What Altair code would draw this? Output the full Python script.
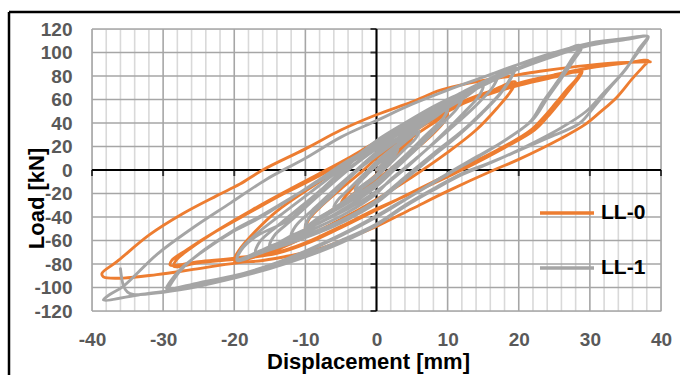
import altair as alt
import pandas as pd

# ---- data ----
SERIES = ["LL-0", "LL-1"]
COLORS = ["#ED7D31", "#A5A5A5"]

LL0_POINTS = [
    # cycle +-5
    (0, 0), (2, 11), (4, 22), (5, 28), (4.6, 23), (3, 13), (1, 2), (0, -4), (-2, -14), (-4, -24), (-5, -29),
    (-4.6, -24), (-3, -13), (-1, -1), (0, 5),
    # cycle +-10
    (3, 19), (6, 32), (8, 40), (10, 48), (9.5, 41), (8, 31), (5, 15), (2, 1), (0, -8), (-3, -21), (-6, -33),
    (-8, -41), (-10, -50), (-9.5, -42), (-8, -32), (-5, -16), (-2, -1), (0, 10),
    # cycle +-20
    (4, 28), (8, 43), (12, 56), (16, 67), (19.5, 75), (19, 68), (17, 53), (14, 34), (10, 15), (5, -6), (0, -25),
    (-5, -42), (-10, -57), (-15, -70), (-20, -77), (-19.4, -69), (-17, -52), (-14, -35), (-10, -18), (-5, 2), (0, 20),
    # cycle +-29 (1)
    (5, 37), (10, 51), (15, 63), (20, 72), (25, 79), (28.9, 84), (28.5, 79), (27.6, 72), (25.8, 58), (24, 45),
    (22.2, 34), (18, 19), (12, 0), (6, -17), (0, -33), (-5, -48), (-10, -62), (-14, -70), (-20, -75), (-25, -78),
    (-29, -81), (-28.8, -77), (-26.7, -68), (-22.5, -52), (-17.8, -36), (-13, -20), (-10, -11), (-5, 5), (0, 22),
    # cycle +-29 (2)
    (5, 39), (10, 53), (15, 65), (20, 74), (25, 80), (28.6, 83), (28.2, 78), (27, 70), (25.2, 57), (23.5, 45),
    (21.5, 33), (17, 17), (11, -1), (5, -19), (0, -34), (-5, -49), (-10, -63), (-14, -71), (-20, -76), (-25, -79),
    (-28.5, -82), (-28.2, -77), (-26, -66), (-22, -50), (-17.5, -34), (-13, -19), (-8, -3), (-4, 10), (0, 24),
    # cycle +-39
    (4, 36), (8, 47), (12, 57), (16, 66), (20, 74), (25, 81), (30, 87), (35, 91), (38.2, 93), (37.5, 88), (36, 78),
    (33.8, 62), (31.4, 49), (29.4, 39), (26, 27), (20, 9), (16.5, 0), (10, -18), (5, -33), (0, -48), (-4, -58),
    (-8, -67), (-12.2, -73), (-16, -77), (-19.6, -79), (-26.2, -85), (-30.9, -89), (-35.6, -92), (-38.4, -91),
    (-38.6, -88), (-36.5, -78), (-31.9, -55), (-27.2, -37), (-22.5, -22), (-19.2, -12), (-16, 0), (-10, 18),
    (-5, 34), (0, 47), (5, 58), (9, 68), (13, 74), (18, 79), (23, 84), (28, 88), (33, 91), (38.5, 92),
]

LL1_POINTS = [
    # cycle +-3
    (0, 0), (1.5, 9), (3, 18), (2.6, 13), (1, 3), (0, -4), (-1.5, -11), (-3, -17), (-2.6, -12), (-1, -2), (0, 4),
    # cycle +-6
    (2, 14), (4, 24), (6, 33), (5.5, 27), (4, 18), (2, 6), (0, -6), (-2, -15), (-4, -24), (-6, -32), (-5.5, -26),
    (-4, -17), (-2, -5), (0, 7),
    # cycle +-10 (1)
    (3, 22), (6, 36), (8, 44), (10, 52), (9.5, 45), (7, 30), (4, 12), (2, 1), (0, -10), (-3, -22), (-6, -33),
    (-8, -40), (-10, -48), (-9.5, -41), (-7, -25), (-4, -7), (-2, 3), (0, 12),
    # cycle +-10 (2)
    (3, 25), (6, 37), (8, 45), (10, 53), (9.4, 44), (7, 29), (4, 11), (2, -1), (0, -12), (-3, -24), (-6, -35),
    (-8, -42), (-10, -49), (-9.4, -40), (-7, -26), (-4, -8), (-2, 3), (0, 13),
    # cycle +-12
    (3, 27), (6, 40), (9, 52), (12, 62), (11.4, 53), (9, 38), (6, 20), (3, 3), (0, -14), (-3, -27), (-6, -38),
    (-9, -48), (-12, -57), (-11.4, -48), (-9, -34), (-6, -17), (-3, -1), (0, 15),
    # cycle +-15
    (4, 31), (8, 46), (12, 60), (15, 72), (14.4, 63), (12, 47), (8, 23), (4, 1), (0, -18), (-4, -33), (-8, -45),
    (-12, -56), (-15, -65), (-14.4, -56), (-12, -43), (-8, -21), (-4, 0), (0, 18),
    # cycle +-17
    (4, 34), (8, 49), (12, 62), (15, 73), (17, 80), (16.4, 71), (14, 55), (10, 33), (6, 12), (2, -8), (0, -20),
    (-4, -36), (-8, -48), (-12, -58), (-15, -65), (-17, -70), (-16.4, -61), (-14, -48), (-10, -28), (-6, -8),
    (-2, 10), (0, 20),
    # cycle +-20 (1)
    (4, 36), (8, 51), (12, 64), (16, 77), (19.5, 88), (19, 80), (17.5, 66), (15, 50), (12, 33), (8, 14), (4, -6),
    (0, -26), (-4, -40), (-8, -51), (-12, -60), (-16, -68), (-19.6, -76), (-19, -67), (-17, -55), (-13, -36),
    (-8, -13), (-4, 6), (0, 25),
    # cycle +-20 (2)
    (4, 40), (8, 54), (12, 66), (16, 78), (19.5, 87), (18.9, 78), (17.3, 64), (14.8, 48), (11.8, 31), (8, 12),
    (4, -8), (0, -28), (-4, -42), (-8, -53), (-12, -62), (-16, -70), (-19.6, -77), (-19, -68), (-16.8, -56),
    (-12.2, -42), (-8, -18), (-4, 4), (0, 24),
    # cycle +-29 (1)
    (5, 42), (10, 58), (15, 73), (20, 87), (25, 98), (28.6, 106), (27.2, 92), (25.4, 75), (23.4, 58), (21.6, 41),
    (18, 25), (14, 11), (10, -3), (6, -18), (2, -32), (0, -39), (-5, -55), (-10, -69), (-15, -81), (-20, -90),
    (-25, -96), (-29.5, -101), (-29, -95), (-27.5, -84), (-24.8, -71), (-20.6, -54), (-16.8, -42), (-12, -24),
    (-8, -8), (-4, 8), (0, 22),
    # cycle +-29 (2)
    (5, 41), (10, 57), (15, 72), (20, 86), (25, 97), (28.8, 104), (27.8, 94), (26, 78), (24, 61), (22, 43),
    (18.5, 27), (14.5, 12), (10.5, -2), (6, -18), (0, -40), (-5, -56), (-10, -70), (-15, -82), (-20, -91),
    (-25, -97), (-29.2, -102), (-28.6, -94), (-27, -82), (-24, -67), (-20, -51), (-16, -38), (-11, -20),
    (-6, -2), (0, 20),
    # cycle +-38
    (5, 40), (10, 57), (15, 72), (20, 86), (25, 97), (30, 106), (35, 111), (38.2, 113.5), (37.8, 110), (37, 104),
    (35.2, 87), (32.8, 70), (30.5, 53), (28.6, 40), (24, 27), (19, 14), (15, 4), (12, -3), (8, -16), (4, -30),
    (0, -46), (-5, -60), (-10, -72), (-15, -82), (-19.2, -90), (-23.9, -96), (-28.6, -102), (-33.2, -106),
    (-38.4, -110.6), (-37.5, -106), (-35.6, -99), (-30.9, -72), (-26, -50), (-20.5, -28), (-15.5, -8), (-10, 10),
    (-5, 28), (0, 42), (5, 56), (10, 68), (15, 79), (20, 90), (25, 100), (30, 108), (35, 112), (38.2, 113.5),
    (37.6, 107), (36.5, 98), (34.5, 82), (32, 66), (29.5, 50), (26, 36), (21, 20), (16, 6), (12, -4), (8, -17),
    (4, -31), (0, -47), (-5, -62), (-10, -74), (-15, -84), (-20, -92), (-25, -99), (-30, -104), (-34.2, -106),
    (-35, -104), (-35.6, -98), (-36, -84),
]

X_TICKS = [-40, -30, -20, -10, 0, 10, 20, 30, 40]
Y_TICKS = [-120, -100, -80, -60, -40, -20, 0, 20, 40, 60, 80, 100, 120]
X_MINOR = [v for v in range(-40, 41, 2) if v % 10 != 0]

# ---- tables ----
rows = []
for name, pts in zip(SERIES, [LL0_POINTS, LL1_POINTS]):
    for i, (x, y) in enumerate(pts):
        rows.append({"series": name, "i": i, "x": x, "y": y})
lines_df = pd.DataFrame(rows)
xmaj_df = pd.DataFrame({"x": X_TICKS, "y": [0] * len(X_TICKS)})
xmin_df = pd.DataFrame({"x": X_MINOR})
ymaj_df = pd.DataFrame({"y": Y_TICKS, "x": [0] * len(Y_TICKS)})
zero_df = pd.DataFrame({"x": [0], "y": [0]})

W, H = 569, 282
FONT = "Liberation Sans"

xscale = alt.Scale(domain=[-40, 40], nice=False, zero=False)
yscale = alt.Scale(domain=[-120, 120], nice=False, zero=False)

xaxis = alt.Axis(values=X_TICKS, grid=False, domain=False, ticks=False, tickSize=0,
                 labelExpr="'' + datum.value", labelOverlap=False, labelFlush=False,
                 labelFont=FONT, labelFontSize=19, labelFontWeight="bold", labelColor="#595959",
                 labelPadding=19, title="Displacement [mm]", titleFont=FONT, titleFontSize=22,
                 titleFontWeight="bold", titleColor="#000000", titleX=276, titleY=57,
                 titleBaseline="alphabetic", titleAlign="center")
yaxis = alt.Axis(values=Y_TICKS, grid=False, domain=False, ticks=False, tickSize=0,
                 labelExpr="'' + datum.value", labelOverlap=False, labelFlush=False,
                 labelFont=FONT, labelFontSize=19, labelFontWeight="bold", labelColor="#595959",
                 labelPadding=20, labelSeparation=0, title="Load [kN]", titleFont=FONT,
                 titleFontSize=22, titleFontWeight="bold", titleColor="#000000", titleX=-56,
                 titleY=169, titleAngle=270, titleBaseline="middle", titleAlign="center")


def X(field="x"):
    return alt.X(f"{field}:Q", scale=xscale, axis=xaxis)


def Y(field="y"):
    return alt.Y(f"{field}:Q", scale=yscale, axis=yaxis)


minor_grid = alt.Chart(xmin_df).mark_rule(color="#D9D9D9", strokeWidth=1.6).encode(x=X())
major_xgrid = alt.Chart(xmaj_df).mark_rule(color="#A6A6A6", strokeWidth=1.6).encode(x=X())
major_ygrid = alt.Chart(ymaj_df).mark_rule(color="#A6A6A6", strokeWidth=1.6).encode(y=Y())

zero_v = alt.Chart(zero_df).mark_rule(color="#000000", strokeWidth=2).encode(x=X())
zero_h = alt.Chart(zero_df).mark_rule(color="#000000", strokeWidth=2).encode(y=Y())
xticks = alt.Chart(xmaj_df).mark_tick(color="#000000", orient="vertical", size=6, thickness=2,
                                      yOffset=3).encode(x=X(), y=Y())
yticks = alt.Chart(ymaj_df).mark_tick(color="#000000", orient="horizontal", size=6, thickness=2,
                                      xOffset=-3).encode(x=X(), y=Y())

loops = alt.Chart(lines_df).mark_line(strokeWidth=2.9, interpolate="catmull-rom",
                                      strokeJoin="round", strokeCap="round").encode(
    x=X(), y=Y(),
    color=alt.Color("series:N", scale=alt.Scale(domain=SERIES, range=COLORS),
                    legend=alt.Legend(title=None, orient="none", legendX=446, legendY=155,
                                      symbolType="stroke", symbolSize=2916, symbolStrokeWidth=3.5,
                                      labelFont=FONT, labelFontSize=21, labelFontWeight="bold",
                                      labelColor="#000000", labelOffset=5, rowPadding=16,
                                      padding=0)),
    order=alt.Order("i:Q"),
)

frame_left = alt.Chart(zero_df).mark_rule(color="#000000", strokeWidth=2.5).encode(
    x=alt.value(-83), y=alt.value(-17), y2=alt.value(400))
frame_top = alt.Chart(zero_df).mark_rule(color="#000000", strokeWidth=2.5).encode(
    x=alt.value(-83), x2=alt.value(700), y=alt.value(-17))

chart = alt.layer(
    minor_grid, major_xgrid, major_ygrid, zero_v, zero_h, xticks, yticks, loops, frame_left, frame_top
).properties(
    width=W, height=H,
    autosize=alt.AutoSizeParams(type="none"),
    padding={"left": 92, "top": 29, "right": 19, "bottom": 64},
).configure_view(stroke="#A6A6A6", strokeWidth=1.6).configure(background="#FFFFFF")

chart.save("out.html", embed_options={"renderer": "svg", "actions": False})
